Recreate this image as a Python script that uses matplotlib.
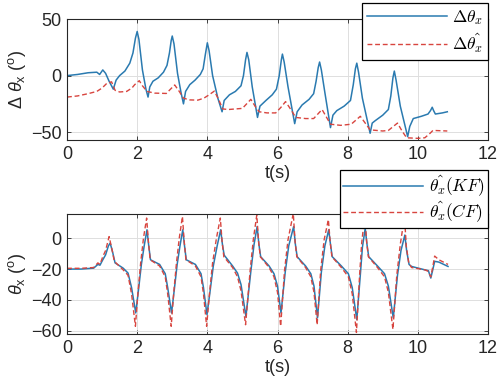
import numpy as np
import matplotlib
matplotlib.use('Agg')
import matplotlib.pyplot as plt

plt.rcParams['font.family'] = ['Liberation Sans', 'DejaVu Sans']
plt.rcParams['mathtext.fontset'] = 'custom'
plt.rcParams['mathtext.rm'] = 'Liberation Sans'
plt.rcParams['mathtext.it'] = 'Liberation Sans:italic'

# top panel: delta theta_x (measured) and estimate
t_dtheta = [0, 0.3, 0.6, 0.85, 0.93, 1.02, 1.1, 1.2, 1.32, 1.4, 1.5, 1.65, 1.79, 1.88, 1.95, 2.0, 2.05, 2.15, 2.25,
            2.31, 2.36, 2.45, 2.6, 2.75, 2.85, 2.92, 2.97, 3.0, 3.05, 3.15, 3.25, 3.32, 3.38, 3.5, 3.65, 3.8, 3.88,
            3.94, 4.0, 4.05, 4.15, 4.3, 4.42, 4.48, 4.63, 4.8, 4.96, 5.03, 5.09, 5.13, 5.18, 5.28, 5.43, 5.5, 5.67,
            5.85, 5.97, 6.05, 6.11, 6.14, 6.19, 6.3, 6.49, 6.56, 6.7, 6.9, 7.03, 7.1, 7.16, 7.2, 7.25, 7.35, 7.51,
            7.58, 7.69, 7.9, 8.08, 8.16, 8.22, 8.26, 8.31, 8.42, 8.64, 8.7, 8.78, 9.0, 9.16, 9.23, 9.29, 9.33, 9.38,
            9.5, 9.71, 9.77, 9.87, 10.1, 10.29, 10.36, 10.41, 10.45, 10.5, 10.7, 10.84]
dtheta = [0, 1, 2.5, 3, 1, 5, 2, -5, -12, -4, 0, 4, 11, 20, 33, 39, 32, 5, -12,
          -19, -10, -5, -2, 3, 9, 20, 31, 35, 28, 2, -15, -25, -14, -8, -4, 1, 6,
          18, 29, 22, 0, -20, -32, -22, -17, -14, -9, 0, 14, 20.5, 14, -10, -37, -27, -22,
          -17, -12, 0, 14, 19, 12, -10, -42.5, -32, -26, -21, -16, -5, 7, 12, 5, -15, -46,
          -35, -31, -27, -22, -8, 6, 11, 3, -20, -51, -42, -40, -35, -30, -18, -2, 4, -4,
          -27, -54, -45, -38, -36, -34, -31, -28, -31, -34, -33, -32]

t_dtheta_hat = [0, 0.3, 0.6, 0.85, 1.0, 1.13, 1.27, 1.37, 1.5, 1.7, 1.85, 1.93, 2.06, 2.15, 2.28, 2.5, 2.83, 2.95,
                3.07, 3.2, 3.32, 3.5, 3.73, 3.9, 4.05, 4.2, 4.32, 4.44, 4.6, 5.0, 5.12, 5.24, 5.36, 5.48, 5.7,
                5.95, 6.1, 6.23, 6.38, 6.52, 6.8, 7.03, 7.15, 7.27, 7.4, 7.51, 7.8, 8.1, 8.25, 8.36, 8.5, 8.64,
                9.0, 9.16, 9.3, 9.42, 9.55, 9.68, 10.0, 10.2, 10.35, 10.43, 10.84]
dtheta_hat = [-19, -18, -16, -14, -11, -7, -5.5, -13, -14.5, -14, -11, -8, -4.5, -9, -14, -15.5, -15.8, -12,
              -8.3, -14, -20, -21.5, -21.7, -20, -17, -13.7, -21, -29.5, -30, -29, -25, -21, -27, -32, -33,
              -33, -28, -23, -30, -37, -38, -38, -34, -30, -37, -43, -44, -43, -39, -36, -42, -48,
              -49, -48.5, -45, -42, -49, -55, -55.5, -55, -51, -48.5, -49]

# bottom panel: theta_x estimates, Kalman filter vs complementary filter
t_kf = [0, 0.4, 0.76, 0.88, 0.94, 1.02, 1.1, 1.18, 1.23, 1.3, 1.37, 1.6, 1.74, 1.84, 1.96, 2.04, 2.12, 2.2, 2.28,
        2.33, 2.38, 2.64, 2.8, 2.87, 2.98, 3.06, 3.14, 3.22, 3.3, 3.35, 3.4, 3.66, 3.82, 3.89, 3.99, 4.08, 4.17,
        4.28, 4.38, 4.43, 4.48, 4.72, 4.86, 4.96, 5.1, 5.24, 5.33, 5.42, 5.47, 5.52, 5.76, 5.9, 6.0, 6.1, 6.22,
        6.32, 6.46, 6.51, 6.56, 6.8, 6.95, 7.04, 7.14, 7.25, 7.35, 7.46, 7.51, 7.56, 7.82, 8.02, 8.13, 8.26,
        8.36, 8.42, 8.5, 8.55, 8.6, 8.85, 9.05, 9.16, 9.3, 9.42, 9.52, 9.63, 9.68, 9.75, 9.82, 10.2, 10.3,
        10.37, 10.43, 10.48, 10.6, 10.86]
theta_kf = [-20, -20, -19.4, -17, -17.5, -14, -10.8, -5, -3.2, -9, -16, -19.4, -22.6, -32, -48.4, -33, -17, -5, 5.4,
            -5, -14, -17, -23, -32, -48.4, -33, -17, -5, 5.4, -5, -14, -17, -23, -32, -49.5, -34, -18,
            -5, 5.4, -4, -11, -18, -22.6, -30, -50.7, -21.5, -4.3, 7.5, -4, -12, -18, -23, -31, -48.4, -22,
            -5, 7.5, -4, -12, -18, -23, -31, -51.6, -22, -5, 5.4, -4, -12, -18, -23, -32, -52.7,
            -24, -6, 6.4, -4, -12, -18, -23, -31, -51.6, -24, -8, 2, -8, -17, -18.3, -20.5, -21,
            -25.8, -20, -15, -15.5, -18.3]

t_cf = [0, 0.4, 0.76, 0.88, 0.94, 1.02, 1.1, 1.2, 1.27, 1.35, 1.6, 1.74, 1.84, 1.95, 2.02, 2.1, 2.18, 2.27,
        2.32, 2.37, 2.64, 2.8, 2.87, 2.97, 3.04, 3.12, 3.2, 3.29, 3.34, 3.39, 3.66, 3.82, 3.89, 3.98, 4.06,
        4.15, 4.26, 4.37, 4.42, 4.47, 4.72, 4.86, 4.96, 5.09, 5.22, 5.31, 5.41, 5.46, 5.51, 5.76, 5.9, 6.0,
        6.09, 6.2, 6.3, 6.45, 6.5, 6.55, 6.8, 6.95, 7.04, 7.13, 7.23, 7.33, 7.45, 7.5, 7.55, 7.82, 8.02,
        8.13, 8.25, 8.34, 8.4, 8.49, 8.54, 8.59, 8.85, 9.05, 9.16, 9.29, 9.4, 9.5, 9.62, 9.67, 9.74, 9.82,
        10.2, 10.3, 10.37, 10.43, 10.48, 10.6, 10.86]
theta_cf = [-19.5, -19.5, -19, -16, -17, -12, -8, 1, -6, -15, -20.5, -24, -36, -57, -36, -16, 0, 13,
            -2, -14, -18, -25, -36, -57, -36, -16, 0, 14, -2, -14, -18, -25, -36, -57, -36,
            -16, 0, 13, -2, -12, -19, -25, -34, -56, -21, -1, 15, -2, -12, -19, -25, -35,
            -57, -21, -1, 16, -2, -12, -19, -25, -35, -56, -21, -1, 12, -2, -12, -19, -25,
            -36, -61, -24, -3, 15, -2, -12, -19, -25, -35, -59, -24, -4, 14, -5, -16, -19,
            -20.5, -21.5, -25, -18, -11.6, -14, -17]

x_ticks = [0, 2, 4, 6, 8, 10, 12]
top_yticks = [-50, 0, 50]
bot_yticks = [-60, -40, -20, 0]

blue = '#2a7ab0'
red = '#d8453f'
edge = '#262626'

fig = plt.figure(figsize=(5.0, 3.89), dpi=100)
ax1 = fig.add_axes([0.134, 0.640, 0.842, 0.311])
ax2 = fig.add_axes([0.134, 0.1414, 0.842, 0.308])


def style_axes(ax, yticks, ylim):
    ax.set_xlim(0, 12)
    ax.set_ylim(*ylim)
    ax.set_xticks(x_ticks)
    ax.set_yticks(yticks)
    ax.grid(True, color='#dedede', linewidth=0.7)
    ax.set_axisbelow(True)
    ax.tick_params(direction='in', length=3, width=0.6, colors=edge, labelsize=13,
                   top=True, right=True, pad=4)
    for s in ax.spines.values():
        s.set_color(edge)
        s.set_linewidth(0.8)
    ax.set_xlabel('t(s)', fontsize=13, color=edge, labelpad=2)


def add_legend(ax, top, spacing, pad):
    # boxed legend sitting over the upper right corner, like the matlab one
    leg = ax.legend(loc='upper right', bbox_to_anchor=(1.0, top), borderaxespad=0,
                    handlelength=4.6, handletextpad=0.3, fancybox=False, framealpha=1,
                    edgecolor='black', borderpad=pad, labelspacing=spacing,
                    prop=dict(size=12.5, math_fontfamily='cm'))
    leg.get_frame().set_linewidth(0.9)
    return leg


ax1.plot(t_dtheta, dtheta, color=blue, lw=1.1, label=r'$\Delta\theta_x$')
ax1.plot(t_dtheta_hat, dtheta_hat, color=red, lw=1.0, ls=(0, (3.5, 2)), label=r'$\Delta\hat{\theta_x}$')
style_axes(ax1, top_yticks, (-57, 50))
ax1.set_ylabel(r'$\Delta\ \theta_{\rm x}\ (^{\rm o})$', fontsize=13, color=edge, labelpad=2)
add_legend(ax1, 1.132, 0.25, 0.28)

ax2.plot(t_kf, theta_kf, color=blue, lw=1.1, label=r'$\hat{\theta_x}(KF)$')
ax2.plot(t_cf, theta_cf, color=red, lw=1.0, ls=(0, (3.5, 2)), label=r'$\hat{\theta_x}(CF)$')
style_axes(ax2, bot_yticks, (-62, 15.5))
ax2.set_ylabel(r'$\theta_{\rm x}\ (^{\rm o})$', fontsize=13, color=edge, labelpad=2)
add_legend(ax2, 1.367, 0.0, 0.2)

fig.savefig('out.png', dpi=100)
